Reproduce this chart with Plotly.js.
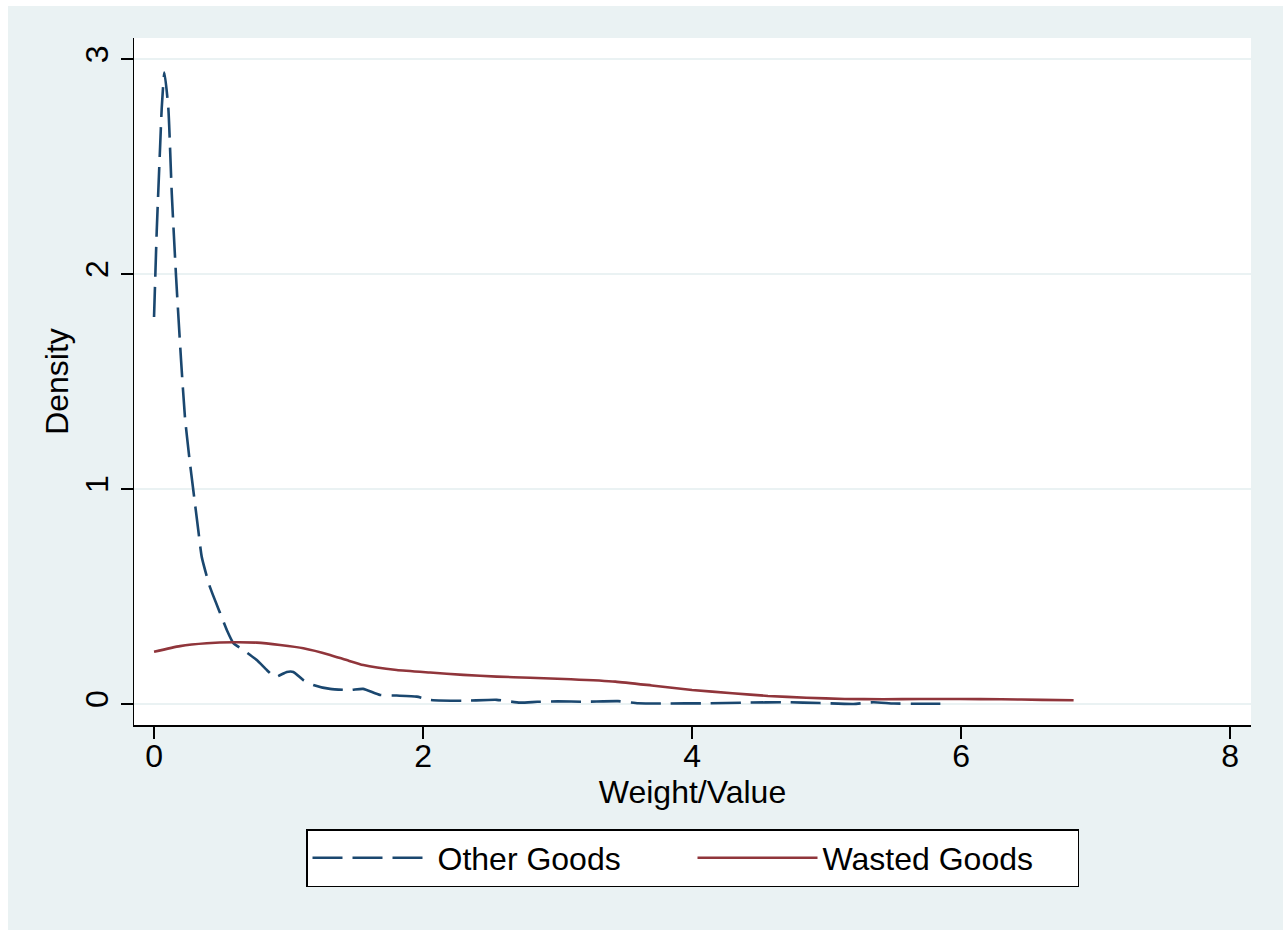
<!DOCTYPE html>
<html>
<head>
<meta charset="utf-8">
<script src="https://cdn.plot.ly/plotly-3.0.1.min.js"></script>
<style>
html, body { margin: 0; padding: 0; background: #ffffff; }
#chart { position: absolute; left: 8px; top: 6px; width: 1275px; height: 924px; }
</style>
</head>
<body>
<div id="chart"></div>
<script>
// Other Goods (kernel density, dashed)
var otherX = [0, 0.02, 0.032, 0.045, 0.057, 0.077, 0.106, 0.132, 0.164, 0.201, 0.230, 0.262, 0.292, 0.329, 0.355,
  0.416, 0.491, 0.541, 0.590, 0.664, 0.764, 0.838, 0.900, 0.987, 1.036, 1.110, 1.184, 1.309, 1.457, 1.554,
  1.680, 1.804, 1.953, 2.052, 2.297, 2.548, 2.721, 2.85, 3.0, 3.2, 3.45, 3.6, 3.8, 4.1, 4.4, 4.7, 4.95,
  5.2, 5.35, 5.5, 5.7, 5.9];
var otherY = [1.80, 2.20, 2.39, 2.59, 2.77, 2.937, 2.774, 2.373, 1.985, 1.598, 1.333, 1.147, 0.994, 0.808, 0.683,
  0.543, 0.423, 0.344, 0.283, 0.251, 0.204, 0.158, 0.125, 0.149, 0.149, 0.111, 0.088, 0.070, 0.065, 0.070,
  0.042, 0.039, 0.034, 0.019, 0.015, 0.019, 0.006, 0.010, 0.012, 0.010, 0.013, 0.003, 0.002, 0.003, 0.006, 0.008, 0.004,
  0.000, 0.008, 0.002, 0.001, 0.001];

// Wasted Goods (kernel density, solid)
var wastedX = [0, 0.193, 0.392, 0.59, 0.764, 0.937, 1.11, 1.309, 1.432, 1.556, 1.804, 2.052, 2.30, 2.548, 2.796,
  3.1, 3.43, 3.7, 4.0, 4.3, 4.565, 4.85, 5.136, 5.42, 5.7, 5.99, 6.3, 6.6, 6.837];
var wastedY = [0.243, 0.269, 0.282, 0.287, 0.285, 0.274, 0.259, 0.228, 0.204, 0.181, 0.158, 0.146, 0.135, 0.127, 0.122,
  0.115, 0.104, 0.086, 0.065, 0.050, 0.037, 0.029, 0.023, 0.022, 0.023, 0.023, 0.022, 0.019, 0.017];

var seriesNames = ["Other Goods", "Wasted Goods"];
var xTicks = [0, 2, 4, 6, 8];
var yTicks = [0, 1, 2, 3];

var FONT = "'Liberation Sans', Arial, Helvetica, sans-serif";
var FS = 32;
var BG = "#EAF2F3";

var traces = [
  { x: otherX, y: otherY, name: seriesNames[0], type: "scatter", mode: "lines",
    line: { color: "#1a476f", width: 2.6, dash: "30px,10px", shape: "spline", smoothing: 0.5 } },
  { x: wastedX, y: wastedY, name: seriesNames[1], type: "scatter", mode: "lines",
    line: { color: "#90353b", width: 2.6, shape: "spline", smoothing: 0.5 } }
];

var layout = {
  width: 1275, height: 924,
  paper_bgcolor: BG, plot_bgcolor: "#ffffff",
  font: { family: FONT, size: FS, color: "#000000" },
  margin: { l: 126, r: 32, t: 32, b: 205 },
  showlegend: true,
  legend: {
    orientation: "h", x: 0.5, xanchor: "center", y: -0.1514, yanchor: "top",
    bgcolor: "#ffffff", bordercolor: "#000000", borderwidth: 1.5,
    font: { family: FONT, size: FS }, itemwidth: 120,
    entrywidth: 250, entrywidthmode: "pixels"
  },
  xaxis: {
    range: [-0.149, 8.156], tickvals: xTicks, ticktext: xTicks.map(String),
    ticks: "outside", ticklen: 12, tickwidth: 1.5, tickcolor: "#000000",
    showline: true, linecolor: "#000000", linewidth: 1.5, mirror: false,
    showgrid: false, zeroline: false, ticklabelstandoff: -10,
    tickfont: { family: FONT, size: FS },
    title: { text: "Weight/Value", font: { family: FONT, size: FS }, standoff: 4 }
  },
  yaxis: {
    range: [-0.098, 3.098], tickvals: yTicks, ticktext: yTicks.map(String),
    tickangle: -90,
    ticks: "outside", ticklen: 12, tickwidth: 1.5, tickcolor: "#000000",
    showline: true, linecolor: "#000000", linewidth: 1.5, mirror: false,
    showgrid: true, gridcolor: BG, gridwidth: 2.5, zeroline: false,
    tickfont: { family: FONT, size: FS },
    title: { text: "Density", font: { family: FONT, size: FS }, standoff: 0 }
  }
};

Plotly.newPlot("chart", traces, layout, { displayModeBar: false, staticPlot: true });
</script>
</body>
</html>
